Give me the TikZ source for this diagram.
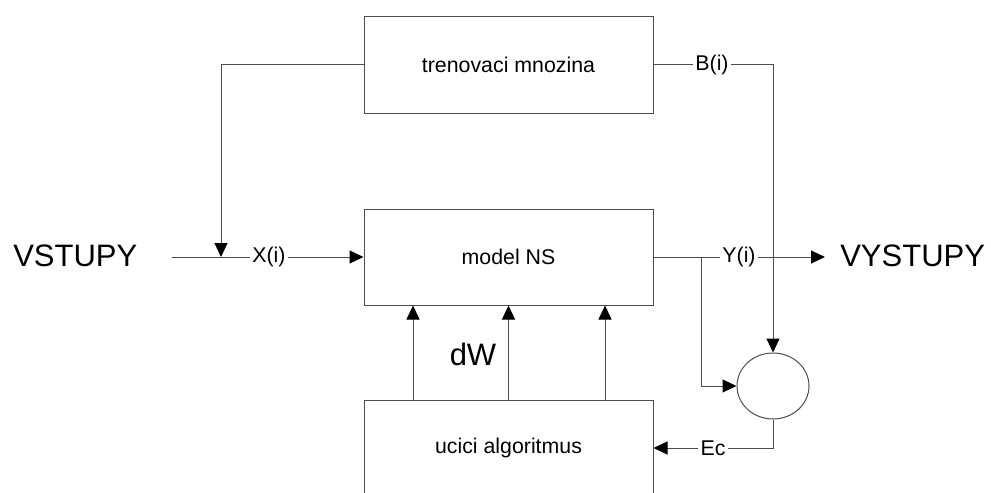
\documentclass[tikz,border=0pt]{standalone}
\usepackage{fontspec}
\setmainfont{Liberation Sans}
\usetikzlibrary{arrows.meta,shapes.geometric}

\begin{document}
\begin{tikzpicture}[x=0.75pt,y=-0.75pt,
  wire/.style={draw=black!70, line width=0.75pt},
  arr/.style={wire, -{Triangle[length=10.5pt,width=9.75pt,color=black]}},
  block/.style={wire, rectangle, minimum width=216.75pt, minimum height=72pt,
    inner sep=0pt, font=\fontsize{16}{19}\selectfont},
  lbl/.style={inner sep=1.5pt, font=\fontsize{16}{19}\selectfont},
  big/.style={inner sep=0pt, font=\fontsize{23.25}{28}\selectfont}]

\useasboundingbox (0,0) rectangle (991,492);
\clip (0,0) rectangle (991,492);

% blocks
\node[block] (train) at (508.5,65)  {trenovaci mnozina};
\node[block] (model) at (508.5,257) {model NS};
\node[block] (alg)   at (508.5,448) {ucici algoritmus};
\node[wire, ellipse, minimum width=54pt, minimum height=49.5pt, inner sep=0pt] (sum) at (773,386) {};

% outer texts
\node[big, anchor=west] (vin)  at (13,256)  {VSTUPY};
\node[big, anchor=west] (vout) at (840,256) {VYSTUPY};
\node[big] (dw) at (473,354) {dW};

% signal labels
\node[lbl] (xi) at (269,257) {X(i)};
\node[lbl] (yi) at (739,257) {Y(i)};
\node[lbl] (bi) at (712,65)  {B(i)};
\node[lbl] (ec) at (713,448) {Ec};

% helper points
\coordinate (inStart) at (172,257);
\coordinate (tap)     at (221,257);
\coordinate (outEnd)  at (825,257);
\coordinate (branch)  at (701,257);
\coordinate (bCorner) at (773,65);

% input path
\draw[wire] (inStart) -- (xi.west);
\draw[arr] (xi.east) -- (model.west);
\draw[arr] (train.west) -| (tap);

% output path
\draw[wire] (model.east) -- (yi.west);
\draw[arr] (yi.east) -- (outEnd);
\draw[arr] (branch) |- (sum.west);

% desired output to comparator
\draw[wire] (train.east) -- (bi.west);
\draw[arr] (bi.east) -- (bCorner) -- (sum.north);

% error back to learning algorithm
\draw[wire] (sum.south) |- (ec.east);
\draw[arr] (ec.west) -- (alg.east);

% weight updates
\draw[arr] ([xshift=-71.6pt]alg.north) -- ([xshift=-71.6pt]model.south);
\draw[arr] (alg.north) -- (model.south);
\draw[arr] ([xshift=72.4pt]alg.north) -- ([xshift=72.4pt]model.south);
\end{tikzpicture}
\end{document}
